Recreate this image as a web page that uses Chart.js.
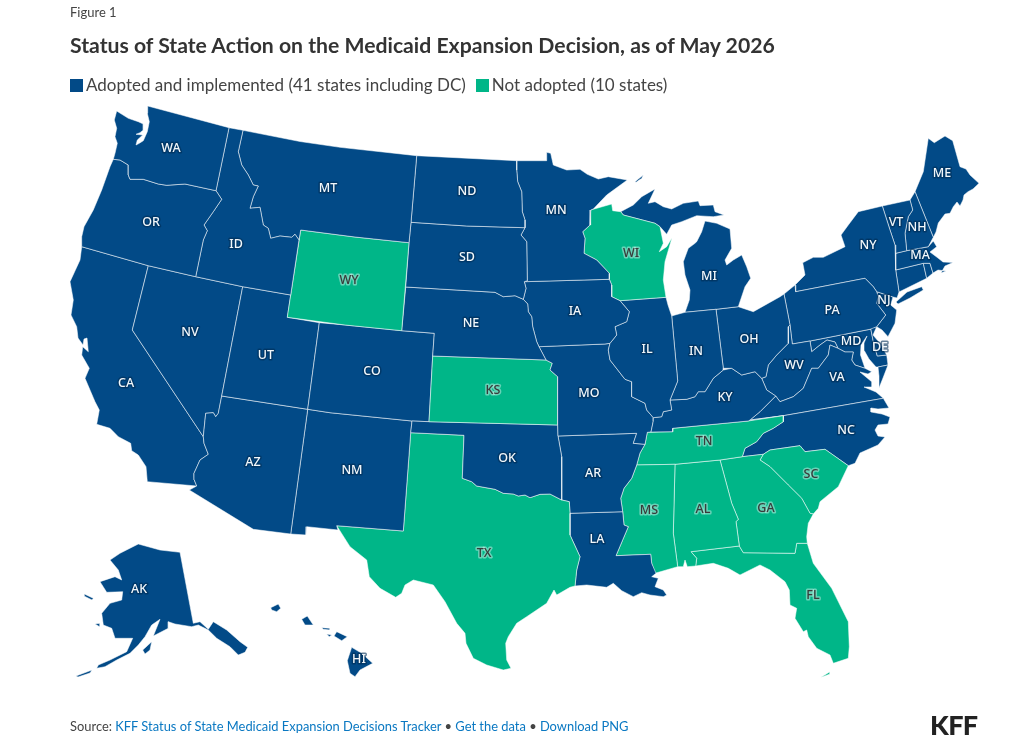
<!DOCTYPE html>
<html>
<head>
<meta charset="utf-8">
<title>Status of State Action on the Medicaid Expansion Decision</title>
<script src="https://cdn.jsdelivr.net/npm/chart.js@4"></script>
<style>
  html, body { margin:0; padding:0; background:#fff; }
  body { width:1018px; height:736px; position:relative; overflow:hidden; font-family:Lato, "Noto Sans", sans-serif; color:#333; }
  #map { position:absolute; left:0; top:0; }
  .abs { position:absolute; white-space:nowrap; }
  #fig { left:70px; top:4px; font-size:13px; color:#444; }
  #title { left:70px; top:32px; font-size:21.2px; font-weight:700; color:#333; }
  #legend { left:70px; top:74px; font-size:17px; color:#444; display:flex; gap:10px; }
  #legend i { display:inline-block; width:13px; height:13px; vertical-align:-1px; margin-right:3px; }
  #source { left:70px; top:718px; font-size:12.9px; color:#444; }
  #source a { color:#0a78c2; text-decoration:none; }
  #logo { left:930px; top:708px; font-size:27px; font-weight:900; color:#222; letter-spacing:-0.6px; }
</style>
</head>
<body>
<canvas id="map" width="1018" height="736"></canvas>
<div class="abs" id="fig">Figure 1</div>
<div class="abs" id="title">Status of State Action on the Medicaid Expansion Decision, as of May 2026</div>
<div class="abs" id="legend"><span><i style="background:#024a87"></i>Adopted and implemented (41 states including DC)</span><span><i style="background:#00b688"></i>Not adopted (10 states)</span></div>
<div class="abs" id="source">Source: <a href="#">KFF Status of State Medicaid Expansion Decisions Tracker</a> • <a href="#">Get the data</a> • <a href="#">Download PNG</a></div>
<div class="abs" id="logo">KFF</div>

<script>
// status lists
const notAdopted = ['WY','KS','TX','WI','TN','MS','AL','GA','SC','FL'];

// outlines, x,y pairs in map units (one array per landmass)
const WA = [147.7,106, 229,127.7, 216,190.7, 185,184, 166.7,185.3, 158.3,184, 143.3,179.3, 130,179.3, 128.3,175, 128.3,165, 120,160, 113.3,159.3, 115,153.3, 117.3,143.3, 115,136.7, 116.7,128.3, 114.3,120, 116.7,111, 128.3,118.3, 138.3,121.7, 143.3,124, 143.3,130, 140,132.7, 136,134.3, 142.7,135, 137.3,140, 136,145, 139.3,143.3, 143.3,140.7, 147.3,131.7, 149.3,121.7, 147.3,113.3];
const OR = [113.3,159.3, 120,160, 128.3,165, 128.3,175, 130,179.3, 143.3,179.3, 158.3,184, 166.7,185.3, 185,184, 216,190.7, 221.7,199.3, 213.3,211.7, 204,225, 207.3,230.7, 203.3,240, 195.7,276.7, 148.3,265.7, 81.7,246.7, 81.7,236.7, 84,226.7, 93.3,210, 101.7,190, 110,166.7];
const ID = [229,127.7, 243,130.3, 238.3,151.7, 241.7,165, 248.3,175, 253.3,185, 258.3,186, 253.3,196.7, 250,208.3, 260,207.3, 263.3,225, 268.3,228.3, 270.7,238.3, 280,236, 291.7,237.3, 295,234.3, 299,240, 290.7,295, 242.7,286.7, 195.7,276.7, 203.3,240, 207.3,230.7, 204,225, 213.3,211.7, 221.7,199.3, 216,190.7];
const MT = [243,130.3, 300,141.5, 340,147.3, 416.7,155.7, 411,222.3, 409,242.7, 355,237, 300.7,230, 299,240, 295,234.3, 291.7,237.3, 280,236, 270.7,238.3, 268.3,228.3, 263.3,225, 260,207.3, 250,208.3, 253.3,196.7, 258.3,186, 253.3,185, 248.3,175, 241.7,165, 238.3,151.7];
const WY = [300.7,230, 355,237, 409,242.7, 401.7,330.7, 345,325, 287.3,317.3];
const ND = [416.7,155.7, 516.7,160.7, 516.7,170, 517.7,181.7, 521.7,191.7, 522.3,211.7, 525,220, 525,227.7, 466.7,226, 411,222.3];
const SD = [411,222.3, 466.7,226, 525,227.7, 521,235, 526.7,241.7, 527.3,280.7, 524.3,281.7, 526,288.3, 523.3,299.3, 515,295.7, 503.3,296.7, 495,292.3, 405.7,287, 409,242.7];
const NE = [405.7,287, 495,292.3, 503.3,296.7, 515,295.7, 523.3,299.3, 527.7,304, 528.3,311.7, 531.7,316.7, 532.7,326.7, 536.7,341.7, 539,346.7, 546,360, 432.7,356, 434.3,333.3, 401.7,330.7];
const MN = [516.7,160.7, 546,160.7, 546.7,152.3, 550.7,153.3, 553.3,165, 566.7,170, 580,169.3, 587.3,174.3, 598.3,179, 608.3,176.7, 627.3,180, 606.7,195, 593.3,209, 590.7,210, 590,225, 582.7,231.7, 585,238.3, 584,253.3, 596.7,260, 609.3,273.3, 609.3,279.3, 524.3,281.7, 527.3,280.7, 526.7,241.7, 521,235, 525,227.7, 525,220, 522.3,211.7, 521.7,191.7, 517.7,181.7, 516.7,170];
const IA = [524.3,281.7, 609.3,279.3, 611.7,285, 611.7,296.7, 620,300.7, 629.3,311.7, 626.7,321.7, 615,326.7, 616.7,335, 610,343.3, 605,344, 539,346.7, 536.7,341.7, 532.7,326.7, 531.7,316.7, 528.3,311.7, 527.7,304, 523.3,299.3, 526,288.3];
const WI = [590.7,210, 611.7,204, 612.7,210.7, 620.7,211.7, 623.3,215, 655,223.3, 660,226.7, 663.3,243.3, 659.3,251.7, 666.7,246.7, 672,237.7, 665,261.7, 663.3,280, 666,297.3, 620,300.7, 611.7,296.7, 611.7,285, 609.3,279.3, 609.3,273.3, 596.7,260, 584,253.3, 585,238.3, 582.7,231.7, 590,225];
const IL = [620,300.7, 666,297.3, 668,305, 671.7,316, 676.7,370, 677.7,381, 670,400, 671.7,410, 663.3,411.7, 661.7,416.7, 653.3,417.7, 646.7,410, 645,403.3, 631.7,396.7, 631.7,381.7, 625,379.3, 610,360, 608.3,350, 610,343.3, 616.7,335, 615,326.7, 626.7,321.7, 629.3,311.7];
const IN = [671.7,316, 675,315, 685,312.3, 716,309.3, 723.3,368.3, 723.3,370, 713.3,378.3, 705,391.7, 698.3,391.7, 695,396.7, 686.7,399.3, 670,400, 677.7,381, 676.7,370];
const MI_LOWER = [685,312.3, 689.3,300, 690,290, 685,275, 683.3,261.7, 688.3,248.3, 695,243.3, 696.7,241.7, 701.7,231.7, 705,221, 716.7,223.3, 730,229, 731.7,248.3, 725,260, 726.7,265, 733.3,260, 741.7,255, 746.7,266.7, 750.7,278.3, 745,286.7, 738.3,306.7, 716,309.3];
const MI_UPPER = [620.7,211.7, 633.3,205, 641.7,196.7, 655,189, 648.3,203.3, 655,201.7, 663.3,206.7, 671.7,209, 683.3,203.3, 698.3,201, 700,205.7, 713.3,205, 715,211.7, 724,215, 713.3,216.7, 696.7,215.7, 681.7,221.7, 671.7,225, 666.7,234.3, 660,226.7, 655,223.3, 623.3,215];
const MI_ISLE = [635,181.7, 643.3,175, 641.7,178.3, 636,182.3];
const OH = [716,309.3, 738.3,306.7, 753.3,311.7, 780,296.7, 784,294, 790,325, 788.3,326.7, 788.3,343.3, 776.7,355, 768.3,365, 766,376.7, 761.7,378.3, 755,371.7, 741.7,375, 731.7,368.3, 723.3,368.3];
const KY = [653.3,417.7, 661.7,416.7, 663.3,411.7, 671.7,410, 670,400, 686.7,399.3, 695,396.7, 698.3,391.7, 705,391.7, 713.3,378.3, 723.3,370, 731.7,368.3, 741.7,375, 755,371.7, 761.7,378.3, 766.7,390, 775.7,396, 760,411.7, 750,420, 748.3,421, 672.7,428.3, 672.7,431.7, 651,432, 653.3,421];
const MO = [539,346.7, 605,344, 610,343.3, 608.3,350, 610,360, 625,379.3, 631.7,381.7, 631.7,396.7, 645,403.3, 646.7,410, 653.3,417.7, 653.3,421, 651,432, 647.3,432.3, 645,444.3, 633.3,443.3, 636.7,433.3, 558,436, 557.7,425, 557.7,376.7, 550,370, 552.3,363.3, 546,360];
const KS = [432.7,356, 546,360, 552.3,363.3, 550,370, 557.7,376.7, 557.7,425, 429,421.7];
const OK = [412,421, 429,421.7, 557.7,425, 558,436, 561.7,456.7, 561.7,500, 550,494, 540,494.3, 530,497.7, 525,495, 518.3,496, 513.3,494, 503.3,493.3, 495,489.3, 476.7,486, 471.7,481.7, 462.3,478.3, 464,435.3, 410.7,432.7];
const CO = [319.3,322.7, 345,325, 401.7,330.7, 434.3,333.3, 432.7,356, 429,421.7, 412,421, 330,412.7, 307.7,409.3];
const UT = [242.7,286.7, 290.7,295, 287.3,317.3, 319.3,322.7, 307.7,409.3, 221.7,396];
const AZ = [221.7,396, 307.7,409.3, 290.7,534, 253.3,529.3, 189.3,490, 196.7,486, 194.3,480, 194,473.3, 200,460, 208.3,454.3, 204,443.3, 203.3,436.7, 205.7,413.3, 213.3,412.7, 215.7,416.7, 218.3,413.3];
const NV = [148.3,265.7, 195.7,276.7, 242.7,286.7, 221.7,396, 218.3,413.3, 215.7,416.7, 213.3,412.7, 205.7,413.3, 203.3,436.7, 132.3,330];
const CA = [81.7,246.7, 148.3,265.7, 132.3,330, 203.3,436.7, 204,443.3, 208.3,454.3, 200,460, 194,473.3, 194.3,480, 196.7,486, 147.3,481.7, 146,466.7, 138.3,455, 131.7,450.7, 130.7,443.3, 118.3,436.7, 110,428.3, 96.7,424.3, 99.3,410, 95,401.7, 85,378.3, 89.3,368.3, 81.7,355, 82.7,346.7, 88.3,351.7, 87,338, 84,339, 83,345, 78,338, 76.7,326.7, 71,315, 73.3,300, 70,281.7, 80,260];
const NM = [307.7,409.3, 330,412.7, 412,421, 410.7,432.7, 403.3,531, 336.7,525.7, 338,530, 306.7,526.7, 306,535, 290.7,534];
const TX = [410.7,432.7, 464,435.3, 462.3,478.3, 471.7,481.7, 476.7,486, 495,489.3, 503.3,493.3, 513.3,494, 518.3,496, 525,495, 530,497.7, 540,494.3, 550,494, 561.7,500, 569.3,501.7, 570,513.3, 570,535, 580,556.7, 576.7,570, 575,586, 570,587.3, 556.7,595, 554,590, 546.7,603.3, 526.7,616.7, 516.7,623.3, 508.3,636.7, 505.7,643.3, 506.7,660, 511,668.3, 503.3,670, 486.7,665, 473.3,658.3, 466,643.3, 465,633.3, 456.7,623.3, 445,601.7, 433.3,585, 413.3,580, 405,585, 401.7,593.3, 395.7,597.3, 380,588.3, 369.3,576.7, 366.7,560, 350,546.7, 336.7,525.7, 403.3,531];
const AR = [558,436, 636.7,433.3, 633.3,443.3, 645,444.3, 640,453, 636.7,465, 631.7,478.3, 624,488.3, 620.7,498.3, 622.7,511.7, 570,513.3, 569.3,501.7, 561.7,500, 561.7,456.7];
const LA = [570,513.3, 622.7,511.7, 624,525, 628.3,526.7, 616,555.7, 650.7,554.3, 651.7,563.3, 656,573.3, 651.7,576.7, 658.3,578.3, 655,586.7, 663.3,590, 666.7,595, 663.3,596.7, 650,595, 641.7,592.7, 633.3,596.7, 621.7,590.7, 613.3,583.3, 606.7,587.3, 586.7,585, 575,586, 576.7,570, 580,556.7, 570,535];
const MS = [636.7,465, 675,464.3, 673.3,533.3, 677.7,566.7, 655,573.3, 651.7,563.3, 650.7,554.3, 616,555.7, 628.3,526.7, 624,525, 622.7,511.7, 620.7,498.3, 624,488.3, 631.7,478.3];
const TN = [647.3,432.3, 672.7,431.7, 672.7,428.3, 748.3,421, 783.3,415.7, 783.3,421.7, 773.3,428.3, 763.3,433.3, 756.7,441.7, 745,448.3, 742.3,456.7, 720,460, 675,464.3, 636.7,465, 640,453, 645,444.3];
const AL = [675,464.3, 720,460, 731.7,503.3, 738.3,519.3, 736,521.7, 739.3,546, 691,551.7, 696.7,558.3, 695.7,566, 687.3,566.7, 685,560, 683.3,566.7, 677.7,566.7, 673.3,533.3];
const GA = [720,460, 742.3,456.7, 763.3,454.3, 760,460, 770,466.7, 788.3,485, 801.7,498.3, 810,513.3, 813.3,514, 808.3,523.3, 806.7,536.7, 807.3,543.3, 796.7,543.3, 795,553.3, 743.3,552.7, 739.3,546, 736,521.7, 738.3,519.3, 731.7,503.3];
const SC = [760,460, 763.3,454.3, 770,450, 800,445.7, 805,451.7, 825,449.3, 848.3,465.7, 838.3,486.7, 820,501.7, 818.3,508.3, 813.3,514, 810,513.3, 801.7,498.3, 788.3,485, 770,466.7];
const FL = [691,551.7, 739.3,546, 743.3,552.7, 795,553.3, 796.7,543.3, 807.3,543.3, 813.3,563.3, 831.7,588.3, 848.3,621.7, 849.3,646.7, 848.3,658.3, 833.3,663.3, 830,655, 816.7,648.3, 808.3,636.7, 806.7,630, 803.3,631.7, 795,618.3, 796.7,608.3, 790,605, 789.3,590, 785,581.7, 770,570, 760,565, 740,575, 728.3,568.3, 713.3,563.3, 695.7,566, 696.7,558.3];
const FL_KEYS = [821,677.3, 830,671.7, 830,674, 822,677];
const NC = [750,420, 783.3,415.7, 883.3,398.3, 889,408, 878,409, 871,408, 871,412, 882,414, 890,417, 888,424, 878,425, 875,430, 878,436, 885,437, 878,445, 860,453, 855,463.3, 848.3,465.7, 825,449.3, 805,451.7, 800,445.7, 770,450, 763.3,454.3, 742.3,456.7, 745,448.3, 756.7,441.7, 763.3,433.3, 773.3,428.3, 783.3,421.7, 783.3,415.7, 748.3,421];
const VA = [750,420, 760,411.7, 775.7,396, 780,401.7, 793.3,396.7, 803.3,388.3, 811.7,368.3, 818.3,368.3, 828.3,355, 830,345, 838,348.3, 845,352, 853.3,352, 851.7,360, 855,365, 865,368.3, 871.7,371.7, 868,374, 860,372, 872,382, 872,387, 864,387, 876,392, 883.3,398.3, 783.3,415.7];
const VA_SHORE = [878,367, 888,365, 883,378, 879,388, 879,376];
const WV = [790,325, 792.3,344, 810,341, 811.7,351.7, 820,345, 827,340, 835,342, 838,348.3, 830,345, 828.3,355, 818.3,368.3, 811.7,368.3, 803.3,388.3, 793.3,396.7, 780,401.7, 775.7,396, 766.7,390, 761.7,378.3, 766,376.7, 768.3,365, 776.7,355, 788.3,343.3, 788.3,326.7];
const PA = [784,294, 795,285, 795.7,291.7, 865,278.3, 873.3,286.7, 876.7,291.7, 878.3,296.7, 876.7,303.3, 885.7,315, 876.7,326.7, 870,329.3, 810,341, 792.3,344, 790,325];
const NY = [795.7,291.7, 795,285, 805,275, 802.7,262.7, 813.3,257.3, 823.3,257.3, 845,246.7, 841,235, 848.3,225, 858.3,211.7, 882.3,206, 890,230, 895,245, 895.7,253.3, 895.7,270, 899,292, 897,298, 893,297, 876.7,291.7, 873.3,286.7, 865,278.3];
const NY_LONG = [896,302, 907,292, 921.7,286.7, 923.3,290, 910,298, 898,304];
const VT = [882.3,206, 910,200, 912.7,210, 908.3,216.7, 905,233.3, 906.7,250.7, 895.7,253.3, 895,245, 890,230];
const NH = [910,200, 915,191.7, 933.3,237.3, 928.3,246.7, 906.7,250.7, 905,233.3, 908.3,216.7, 912.7,210];
const ME = [915,191.7, 923.3,171.7, 928.3,138.3, 934.3,142.7, 945,136, 952.7,140.7, 960,166.7, 966,169, 970,175, 979,183.3, 973,189, 968,191.7, 964,195, 963,200, 960,206, 957,202, 953.3,206.7, 950,213.3, 945,214, 938.3,223, 936,232, 933.3,237.3];
const MA = [895.7,253.3, 906.7,250.7, 928.3,246.7, 933.3,241, 936.7,246.7, 930,252, 938,258, 943,262, 953,262.5, 945,266, 941,273, 946,271, 938,270, 933,273, 930,263.3, 923.3,263.3, 895.7,270];
const RI = [923.3,263.3, 930,263.3, 933,273, 926.7,278.3];
const CT = [895.7,270, 923.3,263.3, 926.7,278.3, 899,292];
const NJ = [876.7,291.7, 893,297, 890.7,305, 896.7,310, 895,323.3, 888,336.7, 882,330, 876.7,326.7, 885.7,315, 876.7,303.3, 878.3,296.7];
const DE = [870.7,328.3, 876.7,326.7, 873,335, 880,343.3, 886.7,355, 877.3,356, 873.3,341.7];
const MD = [810,341, 870,329.3, 870.7,328.3, 873.3,341.7, 877.3,356, 886.7,355, 888,365, 878,367, 876,367, 869,359, 864.5,351, 864,343, 867,336, 861,345, 860.5,355, 865,368.3, 855,365, 851.7,360, 853.3,352, 845,352, 838,348.3, 835,342, 827,340, 820,345, 811.7,351.7];
const AK = [180,552.3, 193.3,623.3, 200,621.7, 208.3,629.3, 213.3,621.7, 226.7,630, 240,641.7, 247.7,647.3, 245,652.3, 238.3,655, 230,646.7, 216.7,638.3, 208.3,630, 198.3,625, 191.7,626.7, 175,624, 168.3,621.7, 168.3,628.3, 153.3,636, 160,619.3, 151.7,625, 145,636.7, 138.3,645, 130,653.3, 116.7,660, 105,666.7, 96.7,668.3, 98.3,665, 110,660, 126.7,651.7, 132.7,638.3, 115,638.3, 111.7,628.3, 103.3,625, 101.7,613.3, 110,603.3, 121.7,600, 122.7,591.7, 106.7,592.3, 100,581.7, 115,576.7, 121.7,580, 118.3,570, 110,560, 120,553.3, 138.3,544, 160,550];
const AK_ALEUT = [76,676, 92,670, 90,673, 78,677];
const AK_NUNIVAK = [84.3,594, 93.3,598.3, 92,600, 84,596];
const AK_ST = [95,624, 100,623.3, 100,627];
const AK_KODIAK = [142.7,650, 151.7,641.7, 150,650, 145,654];
const HI_BIG = [351.7,647.3, 361.7,653.3, 372.7,663.3, 360,670, 355,676.7, 350,673.3, 347.3,660.7];
const HI_MAUI = [336.7,631.7, 347.3,636.7, 341.7,640.7, 334,636];
const HI_MOLOKAI = [321.7,627.7, 330,628.3, 330,630, 323.3,629.3];
const HI_LANAI = [326.7,634, 331.7,635, 329.3,636.7];
const HI_OAHU = [301.7,619.3, 307.3,616, 313.3,625, 305,625];
const HI_KAUAI = [270.7,607.7, 278.3,604, 280.7,608.3, 276.7,611.7, 271.7,610];
const PUGET_WATER = [139.3,113.3, 146,112, 146,116.7, 140,116];
const PANHANDLE_WATER = [216,627, 224,634, 235,644, 236,650, 233,645, 222,636];

const shapes = {
  WA:[WA], OR:[OR], ID:[ID], MT:[MT], WY:[WY], ND:[ND], SD:[SD], NE:[NE], MN:[MN], IA:[IA], WI:[WI], IL:[IL], IN:[IN],
  MI:[MI_LOWER, MI_UPPER, MI_ISLE], OH:[OH], KY:[KY], MO:[MO], KS:[KS], OK:[OK], CO:[CO], UT:[UT], AZ:[AZ], NV:[NV], CA:[CA], NM:[NM],
  TX:[TX], AR:[AR], LA:[LA], MS:[MS], TN:[TN], AL:[AL], GA:[GA], SC:[SC], FL:[FL, FL_KEYS], NC:[NC], VA:[VA, VA_SHORE], WV:[WV], PA:[PA],
  NY:[NY, NY_LONG], VT:[VT], NH:[NH], ME:[ME], MA:[MA], RI:[RI], CT:[CT], NJ:[NJ], DE:[DE], MD:[MD],
  AK:[AK, AK_ALEUT, AK_NUNIVAK, AK_ST, AK_KODIAK], HI:[HI_BIG, HI_MAUI, HI_MOLOKAI, HI_LANAI, HI_OAHU, HI_KAUAI]
};
const water = [PUGET_WATER, PANHANDLE_WATER];

// state label anchors
const labelNames = ['WA','OR','CA','NV','ID','MT','WY','UT','AZ','CO','NM','ND','SD','NE','KS','OK','TX','MN','IA','MO','AR','LA','WI','IL','MI','IN','OH','KY','TN','MS','AL','GA','FL','SC','NC','VA','WV','MD','DE','PA','NJ','NY','VT','NH','MA','ME','AK','HI'];
const labelX = [171,151,126,190,236,328,349,266,253,372,352,467,467,471,493,507,484,556,575,589,593,597,631,647,709,696,749,725,704,649,703,766,813,811,846,837,794,851,880,832,884,868,896,917,920,942,139,359];
const labelY = [148,222,383,332,244,188,280,355,462,371,470,191,257,323,390,458,553,210,311,393,473,539,253,349,276,351,339,397,441,510,509,508,595,474,430,377,365,341,347,310,300,245,222,227,255,173,589,659];

const BLUE = '#024a87';
const GREEN = '#00b688';

const toPoints = flat => {
  const pts = [];
  for (let i = 0; i < flat.length; i += 2) pts.push({ x: flat[i], y: flat[i + 1] });
  pts.push({ x: flat[0], y: flat[1] });
  return pts;
};

const datasets = [];
Object.keys(shapes).forEach(name => {
  const color = notAdopted.includes(name) ? GREEN : BLUE;
  shapes[name].forEach(ring => {
    datasets.push({ label: name, data: toPoints(ring), showLine: true, fill: 'shape', backgroundColor: color, borderColor: 'rgba(255,255,255,0.75)', borderWidth: 0.7, pointRadius: 0, tension: 0 });
  });
});
water.forEach(ring => {
  datasets.push({ label: 'water', data: toPoints(ring), showLine: true, fill: 'shape', backgroundColor: '#fff', borderColor: '#fff', borderWidth: 0.3, pointRadius: 0 });
});

// state abbreviations with a soft halo
const stateLabels = {
  id: 'stateLabels',
  afterDatasetsDraw(chart) {
    const { ctx, scales: { x, y } } = chart;
    ctx.save();
    ctx.font = '500 12.5px "Noto Sans", sans-serif';
    ctx.textAlign = 'center';
    ctx.textBaseline = 'middle';
    ctx.lineJoin = 'round';
    labelNames.forEach((name, i) => {
      const px = x.getPixelForValue(labelX[i]);
      const py = y.getPixelForValue(labelY[i]);
      const green = notAdopted.includes(name);
      ctx.lineWidth = 3;
      ctx.strokeStyle = green ? 'rgba(255,255,255,0.4)' : 'rgba(0,45,85,0.6)';
      ctx.strokeText(name, px, py);
      ctx.fillStyle = green ? '#3a3a3a' : '#f2f7fa';
      ctx.fillText(name, px, py);
    });
    ctx.restore();
  }
};

new Chart(document.getElementById('map'), {
  type: 'scatter',
  data: { datasets },
  plugins: [stateLabels],
  options: {
    responsive: false,
    animation: false,
    layout: { padding: 0 },
    plugins: { legend: { display: false }, tooltip: { enabled: false } },
    scales: {
      x: { type: 'linear', display: false, min: 0, max: 1018 },
      y: { type: 'linear', display: false, min: 0, max: 736, reverse: true }
    }
  }
});
</script>
</body>
</html>
